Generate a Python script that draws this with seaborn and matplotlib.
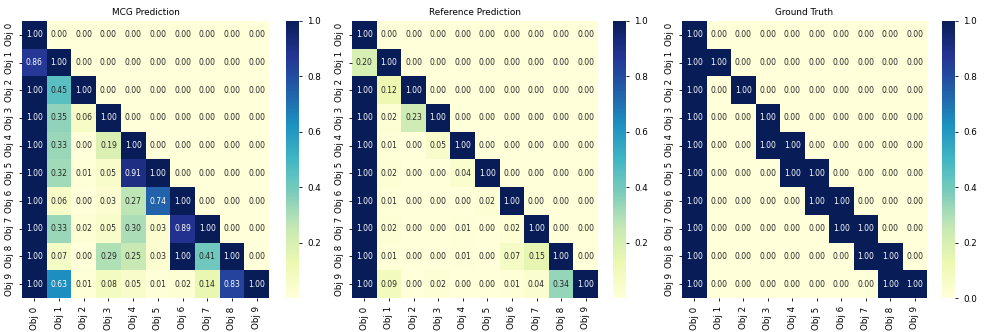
import numpy as np
import pandas as pd
import matplotlib
matplotlib.use("Agg")
import matplotlib.pyplot as plt
import seaborn as sns

labels = [f"Obj {i}" for i in range(10)]
titles = ["MCG Prediction", "Reference Prediction", "Ground Truth"]

mcg = [
    [1.00, 0.00, 0.00, 0.00, 0.00, 0.00, 0.00, 0.00, 0.00, 0.00],
    [0.86, 1.00, 0.00, 0.00, 0.00, 0.00, 0.00, 0.00, 0.00, 0.00],
    [1.00, 0.45, 1.00, 0.00, 0.00, 0.00, 0.00, 0.00, 0.00, 0.00],
    [1.00, 0.35, 0.06, 1.00, 0.00, 0.00, 0.00, 0.00, 0.00, 0.00],
    [1.00, 0.33, 0.00, 0.19, 1.00, 0.00, 0.00, 0.00, 0.00, 0.00],
    [1.00, 0.32, 0.01, 0.05, 0.91, 1.00, 0.00, 0.00, 0.00, 0.00],
    [1.00, 0.06, 0.00, 0.03, 0.27, 0.74, 1.00, 0.00, 0.00, 0.00],
    [1.00, 0.33, 0.02, 0.05, 0.30, 0.03, 0.89, 1.00, 0.00, 0.00],
    [1.00, 0.07, 0.00, 0.29, 0.25, 0.03, 1.00, 0.41, 1.00, 0.00],
    [1.00, 0.63, 0.01, 0.08, 0.05, 0.01, 0.02, 0.14, 0.83, 1.00],
]
ref = [
    [1.00, 0.00, 0.00, 0.00, 0.00, 0.00, 0.00, 0.00, 0.00, 0.00],
    [0.20, 1.00, 0.00, 0.00, 0.00, 0.00, 0.00, 0.00, 0.00, 0.00],
    [1.00, 0.12, 1.00, 0.00, 0.00, 0.00, 0.00, 0.00, 0.00, 0.00],
    [1.00, 0.02, 0.23, 1.00, 0.00, 0.00, 0.00, 0.00, 0.00, 0.00],
    [1.00, 0.01, 0.00, 0.05, 1.00, 0.00, 0.00, 0.00, 0.00, 0.00],
    [1.00, 0.02, 0.00, 0.00, 0.04, 1.00, 0.00, 0.00, 0.00, 0.00],
    [1.00, 0.01, 0.00, 0.00, 0.00, 0.02, 1.00, 0.00, 0.00, 0.00],
    [1.00, 0.02, 0.00, 0.00, 0.01, 0.00, 0.02, 1.00, 0.00, 0.00],
    [1.00, 0.01, 0.00, 0.00, 0.01, 0.00, 0.07, 0.15, 1.00, 0.00],
    [1.00, 0.09, 0.00, 0.02, 0.00, 0.00, 0.01, 0.04, 0.34, 1.00],
]
gt = [
    [1, 0, 0, 0, 0, 0, 0, 0, 0, 0],
    [1, 1, 0, 0, 0, 0, 0, 0, 0, 0],
    [1, 0, 1, 0, 0, 0, 0, 0, 0, 0],
    [1, 0, 0, 1, 0, 0, 0, 0, 0, 0],
    [1, 0, 0, 1, 1, 0, 0, 0, 0, 0],
    [1, 0, 0, 0, 1, 1, 0, 0, 0, 0],
    [1, 0, 0, 0, 0, 1, 1, 0, 0, 0],
    [1, 0, 0, 0, 0, 0, 1, 1, 0, 0],
    [1, 0, 0, 0, 0, 0, 0, 1, 1, 0],
    [1, 0, 0, 0, 0, 0, 0, 0, 1, 1],
]
vmins = [0.001, 0.001, 0.0]

W, H = 997, 332
fig = plt.figure(figsize=(W / 100, H / 100), dpi=100)

hm_x = [22, 352, 682]
hm_w = [247, 246, 245]
cb_x = [286, 613, 942]
top, bottom = 21, 298

for i, (mat, title) in enumerate(zip([mcg, ref, gt], titles)):
    ax = fig.add_axes([hm_x[i] / W, 1 - bottom / H, hm_w[i] / W, (bottom - top) / H])
    cax = fig.add_axes([cb_x[i] / W, 1 - bottom / H, 13 / W, (bottom - top) / H])
    df = pd.DataFrame(np.array(mat, dtype=float), index=labels, columns=labels)
    sns.heatmap(df, ax=ax, cbar_ax=cax, cmap="YlGnBu", annot=True, fmt=".2f",
                vmin=vmins[i], vmax=1.0, annot_kws={"fontsize": 5.5})
    ax.set_title(title, fontsize=6.4, pad=4)
    ax.tick_params(axis="both", labelsize=6.3, length=2.5, width=0.6)
    ax.set_xticklabels(labels, rotation=90)
    ax.set_yticklabels(labels, rotation=90, va="center")
    cax.tick_params(labelsize=6.3, length=2.5, width=0.6)
    cax.set_yticks([0.2, 0.4, 0.6, 0.8, 1.0] if i < 2 else [0.0, 0.2, 0.4, 0.6, 0.8, 1.0])
    for s in cax.spines.values():
        s.set_visible(False)

fig.savefig("out.png", dpi=100)
